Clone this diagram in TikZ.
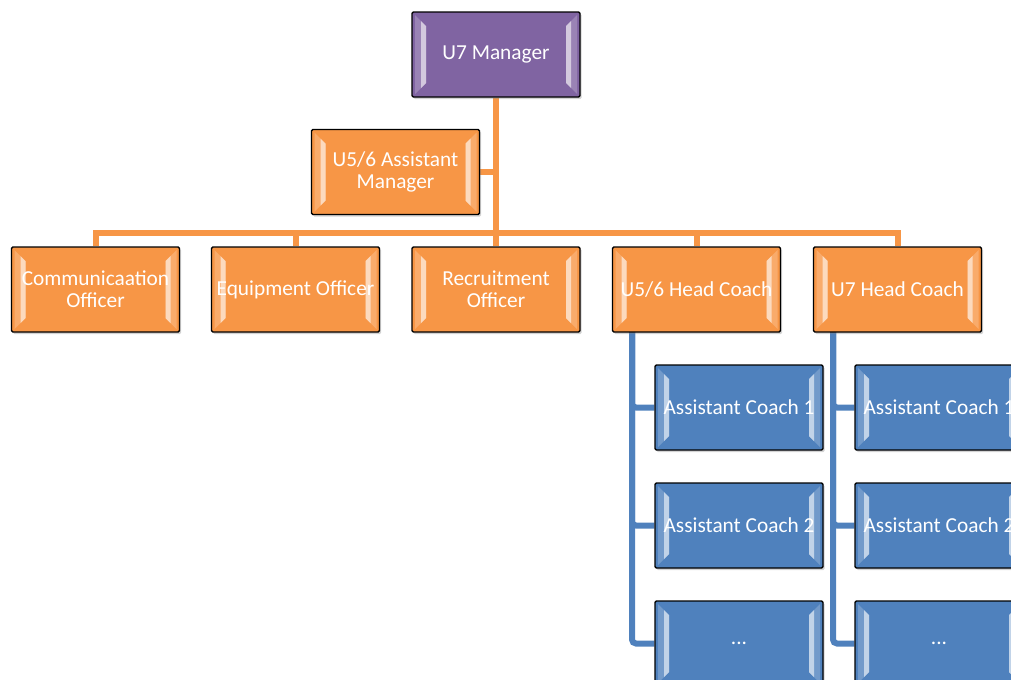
\documentclass[tikz,border=0pt]{standalone}
\usepackage{fontspec}
\setmainfont{Carlito}
\usetikzlibrary{shadows,backgrounds,calc}

\definecolor{purplebox}{RGB}{128,100,162}
\definecolor{orangebox}{RGB}{247,150,70}
\definecolor{bluebox}{RGB}{79,129,189}

\tikzset{
  orgbox/.style={draw=black, line width=1.1pt, fill=#1, rounded corners=1pt,
    minimum width=126pt, minimum height=63.75pt, inner sep=0pt, align=center,
    text=white, font=\fontsize{16}{16.5}\selectfont,
    drop shadow={opacity=0.35, shadow xshift=1.2pt, shadow yshift=-1.5pt},
    path picture={
      % left bevel
      \fill[white!20!#1, rounded corners=0pt]
        ($(path picture bounding box.north west)+(3,-3)$) --
        ($(path picture bounding box.north west)+(14,-14)$) --
        ($(path picture bounding box.south west)+(14,14)$) --
        ($(path picture bounding box.south west)+(3,3)$) -- cycle;
      \fill[white!65!#1, rounded corners=0pt]
        ($(path picture bounding box.north west)+(9,-9)$) --
        ($(path picture bounding box.north west)+(14,-14)$) --
        ($(path picture bounding box.south west)+(14,14)$) --
        ($(path picture bounding box.south west)+(9,9)$) -- cycle;
      % right bevel
      \fill[white!20!#1, rounded corners=0pt]
        ($(path picture bounding box.north east)+(-3,-3)$) --
        ($(path picture bounding box.north east)+(-14,-14)$) --
        ($(path picture bounding box.south east)+(-14,14)$) --
        ($(path picture bounding box.south east)+(-3,3)$) -- cycle;
      \fill[white!65!#1, rounded corners=0pt]
        ($(path picture bounding box.north east)+(-9,-9)$) --
        ($(path picture bounding box.north east)+(-14,-14)$) --
        ($(path picture bounding box.south east)+(-14,14)$) --
        ($(path picture bounding box.south east)+(-9,9)$) -- cycle;
    }},
  orangeline/.style={draw=orangebox, line width=4.5pt},
  blueline/.style={draw=bluebox, line width=4.5pt, rounded corners=3pt},
}

\begin{document}
\begin{tikzpicture}[x=0.75pt,y=0.75pt,yscale=-1,xscale=1]
\clip (0,0) rectangle (1011,679);

% Top
\node[orgbox=purplebox] (mgr) at (496,54.5) {U7 Manager};
\node[orgbox=orangebox] (asstmgr) at (395.5,172) {U5/6 Assistant\\Manager};

% Officers and head coaches
\node[orgbox=orangebox] (comms) at (95.5,289.5) {Communicaation\\Officer};
\node[orgbox=orangebox] (equip) at (295.5,289.5) {Equipment Officer};
\node[orgbox=orangebox] (recruit) at (496,289.5) {Recruitment\\Officer};
\node[orgbox=orangebox] (hcfive) at (696.5,289.5) {U5/6 Head Coach};
\node[orgbox=orangebox] (hcseven) at (897.5,289.5) {U7 Head Coach};

% Assistant coaches
\node[orgbox=bluebox] (acfivea) at (739,407.5) {Assistant Coach 1};
\node[orgbox=bluebox] (acfiveb) at (739,525.5) {Assistant Coach 2};
\node[orgbox=bluebox] (acfivec) at (739,643.5) {...};
\node[orgbox=bluebox] (acsevena) at (939,407.5) {Assistant Coach 1};
\node[orgbox=bluebox] (acsevenb) at (939,525.5) {Assistant Coach 2};
\node[orgbox=bluebox] (acsevenc) at (939,643.5) {...};

% Connectors
\begin{scope}[on background layer]
\coordinate (bar) at (496,233);
\draw[orangeline] (mgr.south) -- (bar);
\draw[orangeline] (asstmgr.east) -- (asstmgr.east -| mgr.south);
\draw[orangeline] (comms.north) |- (bar) -| (hcseven.north);
\draw[orangeline] (equip.north) -- (equip.north |- bar);
\draw[orangeline] (recruit.north) -- (recruit.north |- bar);
\draw[orangeline] (hcfive.north) -- (hcfive.north |- bar);

\coordinate (trunkfive) at (632,332);
\coordinate (trunkseven) at (833,332);
\draw[blueline] (trunkfive) |- (acfivea.west);
\draw[blueline] (trunkfive) |- (acfiveb.west);
\draw[blueline] (trunkfive) |- (acfivec.west);
\draw[blueline] (trunkseven) |- (acsevena.west);
\draw[blueline] (trunkseven) |- (acsevenb.west);
\draw[blueline] (trunkseven) |- (acsevenc.west);
\end{scope}

\end{tikzpicture}
\end{document}
